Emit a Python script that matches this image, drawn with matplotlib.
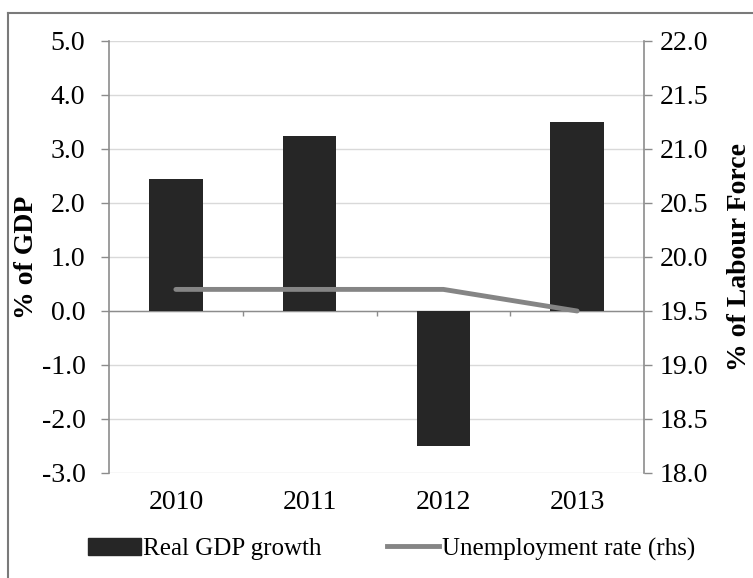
import matplotlib
matplotlib.use("Agg")
import matplotlib.pyplot as plt
from matplotlib.lines import Line2D

years = ["2010", "2011", "2012", "2013"]
gdp_growth = [2.45, 3.25, -2.5, 3.5]
unemployment = [19.7, 19.7, 19.7, 19.5]

left_ticks = [5.0, 4.0, 3.0, 2.0, 1.0, 0.0, -1.0, -2.0, -3.0]
right_ticks = [22.0, 21.5, 21.0, 20.5, 20.0, 19.5, 19.0, 18.5, 18.0]

BAR = "#262626"
LINE = "#858585"
AXIS = "#8c8c8c"
GRID = "#d9d9d9"

plt.rcParams["font.family"] = ["Liberation Serif", "DejaVu Serif"]

fig = plt.figure(figsize=(7.53, 5.78), dpi=100)
W, H = 753, 578
ax = fig.add_axes([109 / W, 1 - 473 / H, (644 - 109) / W, (473 - 41) / H])
ax2 = ax.twinx()

x = list(range(len(years)))
ax.bar(x, gdp_growth, width=0.4, color=BAR, zorder=3)
ax2.plot(x, unemployment, color=LINE, lw=3.5, solid_capstyle="round", zorder=4)

ax.set_xlim(-0.5, 3.5)
ax.set_ylim(-3.0, 5.0)
ax2.set_ylim(18.0, 22.0)
ax.set_yticks(left_ticks, [f"{v:.1f}" for v in left_ticks])
ax2.set_yticks(right_ticks, [f"{v:.1f}" for v in right_ticks])
ax.set_xticks(x, years)

ax.grid(axis="y", color=GRID, lw=1.0, zorder=0)
ax.set_axisbelow(True)
ax.axhline(0, color=AXIS, lw=1.0, zorder=2)
ax.vlines([0.5, 1.5, 2.5], -0.1, 0, color=AXIS, lw=1.0, zorder=2)

for a in (ax, ax2):
    for s in ("top", "bottom"):
        a.spines[s].set_visible(False)
    a.spines["left"].set_color(AXIS)
    a.spines["right"].set_color(AXIS)
    a.spines["left"].set_linewidth(1.2)
    a.spines["right"].set_linewidth(1.2)
ax.spines["right"].set_visible(False)
ax2.spines["left"].set_visible(False)

ax.tick_params(axis="y", length=6, width=1, color=AXIS, labelsize=20, pad=11)
ax2.tick_params(axis="y", length=6, width=1, color=AXIS, labelsize=20, pad=5)
ax.tick_params(axis="x", length=0, labelsize=20, pad=12)

ax.set_ylabel("% of GDP", fontsize=20, fontweight="bold")
ax2.set_ylabel("% of Labour Force", fontsize=20, fontweight="bold")
ax.yaxis.set_label_coords(-0.131, 0.5)
ax2.yaxis.set_label_coords(1.155, 0.5)

handles = [plt.Rectangle((0, 0), 1, 1, color=BAR),
           Line2D([], [], color=LINE, lw=3.5)]
fig.legend(handles, ["Real GDP growth", "Unemployment rate (rhs)"],
           loc="center", bbox_to_anchor=(0.52, 1 - 549 / H), ncol=2,
           frameon=False, fontsize=18, handlelength=2.1, handletextpad=0.1,
           columnspacing=2.6)

# outer chart frame (top and left edges visible in the reference)
fig.add_artist(Line2D([8 / W, 8 / W], [0, 1 - 13 / H], color="#7a7a7a", lw=1.5))
fig.add_artist(Line2D([8 / W, 1], [1 - 13 / H, 1 - 13 / H], color="#7a7a7a", lw=1.5))

fig.savefig("out.png", dpi=100)
